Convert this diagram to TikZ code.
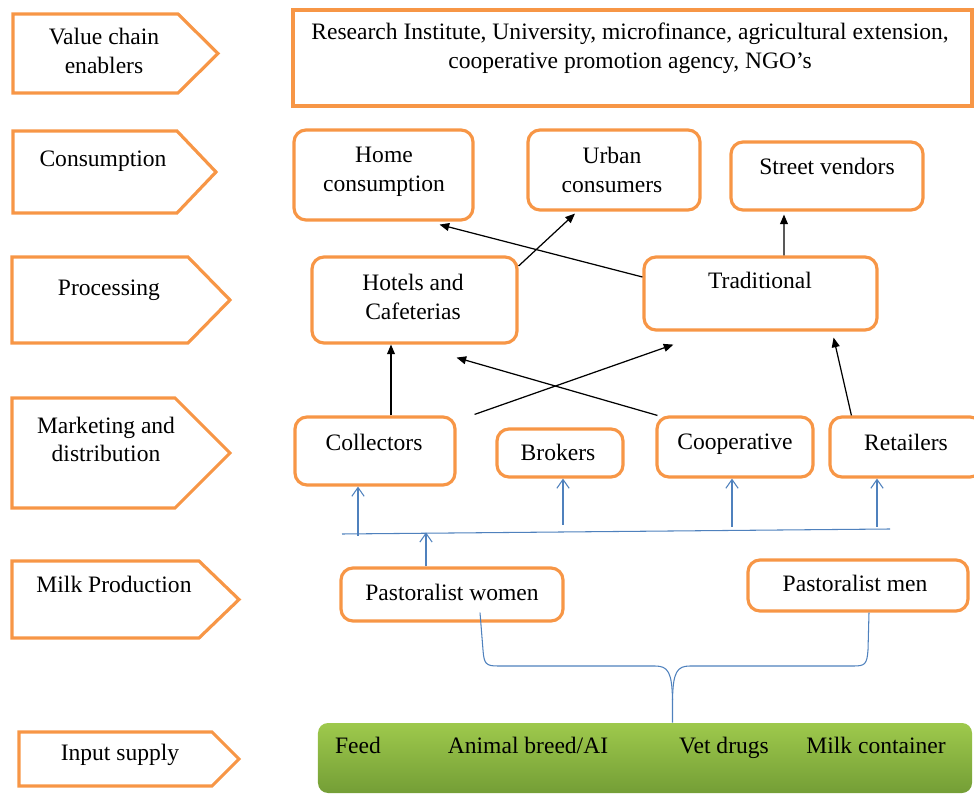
\documentclass[tikz,border=0pt]{standalone}
\usepackage{fontspec}
\setmainfont{Liberation Serif}
\usetikzlibrary{arrows.meta, positioning, calc}
\definecolor{stageorange}{RGB}{247, 150, 70}
\definecolor{linkblue}{RGB}{79, 129, 189}
\definecolor{inputtop}{RGB}{158, 201, 76}
\definecolor{inputbot}{RGB}{116, 158, 54}
\tikzset{
  stagebox/.style={draw=stageorange, line width=1.8pt, line join=miter},
  actor/.style={draw=stageorange, line width=1.8pt, rounded corners=2.4mm, fill=white},
  flow/.style={-{Triangle[length=5.5pt, width=4.5pt]}, line width=0.7pt, black},
  feedline/.style={-{Straight Barb[length=5pt, width=7pt]}, linkblue, line width=0.6pt},
  bluelink/.style={linkblue, line width=0.6pt},
  txt/.style={align=center, inner sep=0pt}
}

\begin{document}
\begin{tikzpicture}[x=0.2mm, y=-0.2mm, every node/.style={font=\fontsize{13.4}{16.4}\selectfont}]
    \useasboundingbox (0,0) rectangle (974,794);

    % Stage arrows on the left
    \draw[stagebox] (13,14)  -- (178,14)  -- (218,53.5) -- (178,93)  -- (13,93)  -- cycle;
    \draw[stagebox] (13,131) -- (177,131) -- (216,172)  -- (177,213) -- (13,213) -- cycle;
    \draw[stagebox] (12,257) -- (188,257) -- (230,300)  -- (188,343) -- (12,343) -- cycle;
    \draw[stagebox] (12,398) -- (175,398) -- (230,453)  -- (175,508) -- (12,508) -- cycle;
    \draw[stagebox] (12,561) -- (199,561) -- (239,599.5) -- (199,638) -- (12,638) -- cycle;
    \draw[stagebox] (19,732) -- (212,732) -- (239,759)  -- (212,786) -- (19,786) -- cycle;
    \node[txt] (s1) at (104,51)  {Value chain\\enablers};
    \node[txt] (s2) at (103,161) {Consumption};
    \node[txt] (s3) at (109,290) {Processing};
    \node[txt] (s4) at (106,439.5) {Marketing and\\distribution};
    \node[txt] (s5) at (114,584) {Milk Production};
    \node[txt] (s6) at (120,755) {Input supply};

    % Enablers
    \node[draw=stageorange, line width=1.8pt, minimum width=135.8mm, minimum height=19.2mm] (enab) at (632.5,58) {};
    \node[txt] (enabt) at (630,48.5) {Research Institute, University, microfinance, agricultural extension,\\cooperative promotion agency, NGO’s};

    % Consumption
    \node[actor, minimum width=35.8mm, minimum height=18mm] (home) at (383.5,175) {};
    \node[txt] (homet) at (384,172) {Home\\consumption};
    \node[actor, minimum width=34.4mm, minimum height=16mm] (urban) at (614,170) {};
    \node[txt] (urbant) at (612,170) {Urban\\consumers};
    \node[actor, minimum width=38.4mm, minimum height=13.6mm] (street) at (827,176) {};
    \node[txt] (streett) at (827,166) {Street vendors};

    % Processing
    \node[actor, minimum width=41mm, minimum height=17.2mm] (hotel) at (414.5,300) {};
    \node[txt] (hotelt) at (413,297) {Hotels and\\Cafeterias};
    \node[actor, minimum width=46.6mm, minimum height=14.6mm] (trad) at (760.5,293.5) {};
    \node[txt] (tradt) at (760,280) {Traditional};

    % Marketing and distribution
    \node[actor, minimum width=32mm, minimum height=13.6mm] (coll) at (375,451) {};
    \node[txt] (collt) at (374,442) {Collectors};
    \node[actor, minimum width=25.2mm, minimum height=9.6mm] (brok) at (560,453) {};
    \node[txt] (brokt) at (558,452) {Brokers};
    \node[actor, minimum width=31.2mm, minimum height=12mm] (coop) at (735,447) {};
    \node[txt] (coopt) at (735,444) {Cooperative};
    \node[actor, minimum width=30.4mm, minimum height=12mm] (retail) at (906,447) {};
    \node[txt] (retailt) at (906,442) {Retailers};

    % Milk production
    \node[actor, minimum width=44.4mm, minimum height=10.6mm] (women) at (452,594.5) {};
    \node[txt] (woment) at (452,592) {Pastoralist women};
    \node[actor, minimum width=44mm, minimum height=10.2mm] (men) at (858,585.5) {};
    \node[txt] (ment) at (855,583) {Pastoralist men};

    % Input supply
    \node[rounded corners=2mm, top color=inputtop, bottom color=inputbot,
          minimum width=130.8mm, minimum height=14mm] (input) at (645,758) {};
    \node[txt, anchor=base] (in1) at (358,753) {Feed};
    \node[txt, anchor=base] (in2) at (528,753) {Animal breed/AI};
    \node[txt, anchor=base] (in3) at (724,753) {Vet drugs};
    \node[txt, anchor=base] (in4) at (876,753) {Milk container};

    % Black arrows
    \draw[flow] ($(trad.west)+(0,-16.5)$) -- ($(home.south)+(56,3)$);
    \draw[flow] ($(hotel.east)+(0,-34)$) -- ($(urban.south)+(-39,2)$);
    \draw[flow] ($(trad.north)+(23.5,0)$) -- ($(street.south)+(-43,3)$);
    \draw[flow] ($(coll.north)+(16,0)$) -- ($(hotel.south)+(-23.5,0)$);
    \draw[flow] ($(coll.north east)+(18,-1)$) -- ($(trad.south west)+(31,13)$);
    \draw[flow] ($(coop.north west)+(2,0)$) -- ($(hotel.south)+(42,13)$);
    \draw[flow] ($(retail.north west)+(23,0)$) -- ($(trad.south east)+(-45,6)$);

    % Blue bus and feeds
    \coordinate (busL) at (342,534);
    \coordinate (busR) at (890,529);
    \draw[bluelink] (busL) -- (busR);
    \draw[feedline] ($(coll.south)+(-17,49)$) -- ($(coll.south)+(-17,0)$);
    \draw[feedline] ($(brok.south)+(3,46)$) -- ($(brok.south)+(3,0)$);
    \draw[feedline] ($(coop.south)+(-3,48)$) -- ($(coop.south)+(-3,0)$);
    \draw[feedline] ($(retail.south)+(-29,48)$) -- ($(retail.south)+(-29,0)$);
    \draw[feedline] ($(women.north)+(-26,0)$) -- ($(women.north)+(-26,-34)$);

    % Brace from producers to inputs
    \coordinate (bracetip) at (672.5,700);
    \draw[bluelink] ($(women.south)+(28,-10)$) -- (483,650) .. controls (484,664) and (486,666) .. (498,666)
      -- (655,666) .. controls (668,666) and (672,672) .. (bracetip) -- ($(input.north)+(27.5,0)$);
    \draw[bluelink] ($(men.south)+(11,0)$) -- (868,650) .. controls (867,664) and (865,666) .. (854,666)
      -- (690,666) .. controls (677,666) and (673,672) .. (bracetip);
\end{tikzpicture}
\end{document}
